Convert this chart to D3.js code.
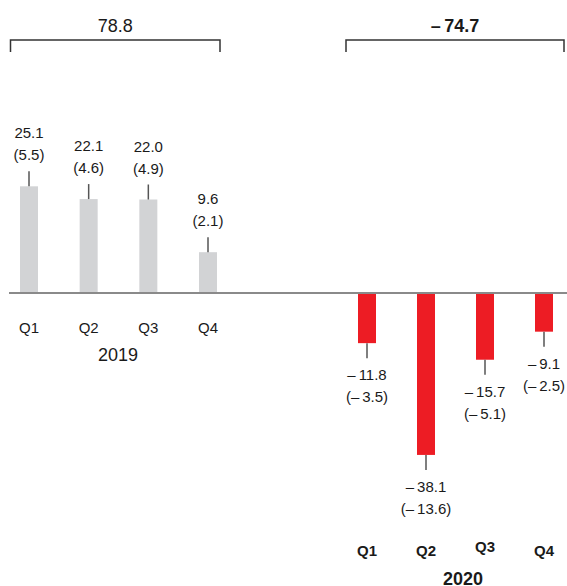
<!DOCTYPE html>
<html>
<head>
<meta charset="utf-8">
<script src="https://cdn.jsdelivr.net/npm/d3@7"></script>
<style>
  html, body { margin: 0; padding: 0; background: #fff; }
  svg { display: block; font-family: "Liberation Sans", Arial, Helvetica, sans-serif; }
</style>
</head>
<body>
<svg id="chart" width="567" height="586"></svg>
<script>
// Quarterly change, 2019 vs 2020
const quarters = ["Q1", "Q2", "Q3", "Q4"];
const years = ["2019", "2020"];
const values2019 = [25.1, 22.1, 22.0, 9.6];
const share2019 = [5.5, 4.6, 4.9, 2.1];
const values2020 = [-11.8, -38.1, -15.7, -9.1];
const share2020 = [-3.5, -13.6, -5.1, -2.5];
const totals = [78.8, -74.7];

const svg = d3.select("#chart");

const y = d3.scaleLinear().domain([-40, 30]).range([463, 165.5]);
const x2019 = d3.scalePoint().domain(quarters).range([29, 208]);
const x2020 = d3.scalePoint().domain(quarters).range([367, 544]);
const barW = 18;

const fmt = v => {
  const s = d3.format(".1f")(Math.abs(v));
  return v < 0 ? "\u2013\u2009" + s : s;
};

const groups = [
  { year: years[0], vals: values2019, shares: share2019, x: x2019, color: "#d2d3d5", bold: false, total: totals[0], bracket: [10.5, 220] },
  { year: years[1], vals: values2020, shares: share2020, x: x2020, color: "#ed1c24", bold: true, total: totals[1], bracket: [346, 564] }
];

const y0 = y(0);

groups.forEach(g => {
  const rows = quarters.map((q, i) => ({ q, v: g.vals[i], s: g.shares[i] }));

  // bars
  svg.append("g").selectAll("rect").data(rows).join("rect")
    .attr("x", d => g.x(d.q) - barW / 2)
    .attr("width", barW)
    .attr("y", d => Math.min(y(d.v), y0))
    .attr("height", d => Math.abs(y(d.v) - y0))
    .attr("fill", g.color);

  // leader ticks
  svg.append("g").selectAll("line").data(rows).join("line")
    .attr("x1", d => g.x(d.q)).attr("x2", d => g.x(d.q))
    .attr("y1", d => y(d.v))
    .attr("y2", d => d.v >= 0 ? y(d.v) - 15 : y(d.v) + 15)
    .attr("stroke", "#555").attr("stroke-width", 1.5);

  // value labels
  const lab = svg.append("g").attr("font-size", 15).attr("fill", "#1a1a1a").attr("text-anchor", "middle");
  lab.selectAll("text.v").data(rows).join("text").attr("class", "v")
    .attr("x", d => g.x(d.q))
    .attr("y", d => d.v >= 0 ? y(d.v) - 48 : y(d.v) + 37)
    .text(d => fmt(d.v));
  lab.selectAll("text.s").data(rows).join("text").attr("class", "s")
    .attr("x", d => g.x(d.q))
    .attr("y", d => d.v >= 0 ? y(d.v) - 26 : y(d.v) + 59)
    .text(d => "(" + fmt(d.s) + ")");

  // total bracket
  const [bx0, bx1] = g.bracket;
  svg.append("path")
    .attr("d", `M${bx0},52V40H${bx1}V52`)
    .attr("fill", "none").attr("stroke", "#333").attr("stroke-width", 1.5);
  svg.append("text")
    .attr("x", (bx0 + bx1) / 2).attr("y", 32)
    .attr("text-anchor", "middle").attr("font-size", 18)
    .attr("font-weight", g.bold ? "bold" : "normal").attr("fill", "#1a1a1a")
    .text(fmt(g.total));
});

// baseline
svg.append("line")
  .attr("x1", 9).attr("x2", 567).attr("y1", y0).attr("y2", y0)
  .attr("stroke", "#8a8a8a").attr("stroke-width", 2);

// 2019 axis labels
const ax1 = svg.append("g").attr("font-size", 15).attr("fill", "#1a1a1a").attr("text-anchor", "middle");
ax1.selectAll("text").data(quarters).join("text")
  .attr("x", d => x2019(d)).attr("y", 333).text(d => d);
svg.append("text").attr("x", 118).attr("y", 361).attr("text-anchor", "middle")
  .attr("font-size", 18).attr("fill", "#1a1a1a").text(years[0]);

// 2020 axis labels (Q3 sits slightly higher)
const ax2 = svg.append("g").attr("font-size", 15).attr("font-weight", "bold").attr("fill", "#1a1a1a").attr("text-anchor", "middle");
ax2.selectAll("text").data(quarters).join("text")
  .attr("x", d => x2020(d)).attr("y", d => d === "Q3" ? 551.5 : 556).text(d => d);
svg.append("text").attr("x", 463).attr("y", 585).attr("text-anchor", "middle")
  .attr("font-size", 18).attr("font-weight", "bold").attr("fill", "#1a1a1a").text(years[1]);
</script>
</body>
</html>
